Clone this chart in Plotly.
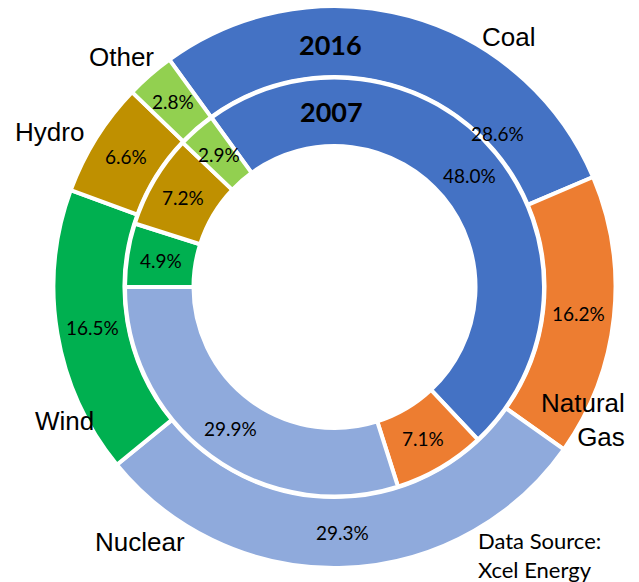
import math
import plotly.graph_objects as go

# ---- data ----
categories = ["Coal", "Natural Gas", "Nuclear", "Wind", "Hydro", "Other"]
share_2016 = [28.6, 16.2, 29.3, 16.5, 6.6, 2.8]
share_2007 = [48.0, 7.1, 29.9, 4.9, 7.2, 2.9]
colors = ["#4472C4", "#ED7D31", "#8FAADC", "#00B050", "#BF9000", "#92D050"]

# ---- layout constants (pixels) ----
W, H = 639, 582
CX, CY = 334.5, 287.0
R_OUT, R_MID, R_IN = 281.0, 210.0, 141.0
ROTATION = -36
PCT_FONT = dict(family="Lato", size=19, color="black")
CAT_FONT = dict(family="Liberation Sans, Arial", size=26, color="black")


def dom(r):
    return dict(x=[(CX - r) / W, (CX + r) / W], y=[1 - (CY + r) / H, 1 - (CY - r) / H])


def px(x):
    return x / W


def py(y):
    return 1 - y / H


def note(x, y, text, font, xanchor="center", align="center"):
    fig.add_annotation(x=px(x), y=py(y), xref="paper", yref="paper", text=text,
                       showarrow=False, font=font, xanchor=xanchor, yanchor="middle",
                       align=align)


fig = go.Figure()
fig.add_trace(go.Pie(
    labels=categories, values=share_2016, hole=R_MID / R_OUT, domain=dom(R_OUT),
    sort=False, direction="clockwise", rotation=ROTATION,
    marker=dict(colors=colors, line=dict(color="white", width=4)),
    textinfo="none", showlegend=False, name="2016"))
fig.add_trace(go.Pie(
    labels=categories, values=share_2007, hole=R_IN / (R_MID - 0.5), domain=dom(R_MID - 0.5),
    sort=False, direction="clockwise", rotation=ROTATION,
    marker=dict(colors=colors, line=dict(color="white", width=4)),
    textinfo="none", showlegend=False, name="2007"))


def add_pct(values, r_mid, overrides):
    total = sum(values)
    cum = 0.0
    for cat, v in zip(categories, values):
        ang = ROTATION + (cum + v / 2) / total * 360
        r = r_mid
        if cat in overrides:
            ang, r = overrides[cat]
        a = math.radians(ang)
        note(CX + r * math.sin(a), CY - r * math.cos(a), f"{v:.1f}%", PCT_FONT)
        cum += v


add_pct(share_2016, (R_OUT + R_MID) / 2, {"Coal": (46.8, 223.6)})
add_pct(share_2007, (R_MID + R_IN) / 2, {})

# year labels
YEAR_FONT = dict(family="Lato", size=27, color="black")
note(330, 45, "<b>2016</b>", YEAR_FONT)
note(332, 112, "<b>2007</b>", YEAR_FONT)

# category labels
cat_pos = {"Coal": (508, 37), "Nuclear": (140, 542), "Wind": (64, 421),
           "Hydro": (49, 132), "Other": (121, 57)}
for name, (x, y) in cat_pos.items():
    note(x, y, name, CAT_FONT)
note(627, 420, "Natural<br>Gas", CAT_FONT, xanchor="right", align="right")

# source
note(476, 555, "Data Source:<br>Xcel Energy", dict(family="Lato", size=22, color="black"),
     xanchor="left", align="left")

fig.update_layout(width=W, height=H,
                  margin=dict(l=0, r=0, t=0, b=0, autoexpand=False),
                  paper_bgcolor="white", plot_bgcolor="white", showlegend=False)
fig.write_html("out.html", config={"displayModeBar": False},
               post_script="document.body.style.margin='0px';")
